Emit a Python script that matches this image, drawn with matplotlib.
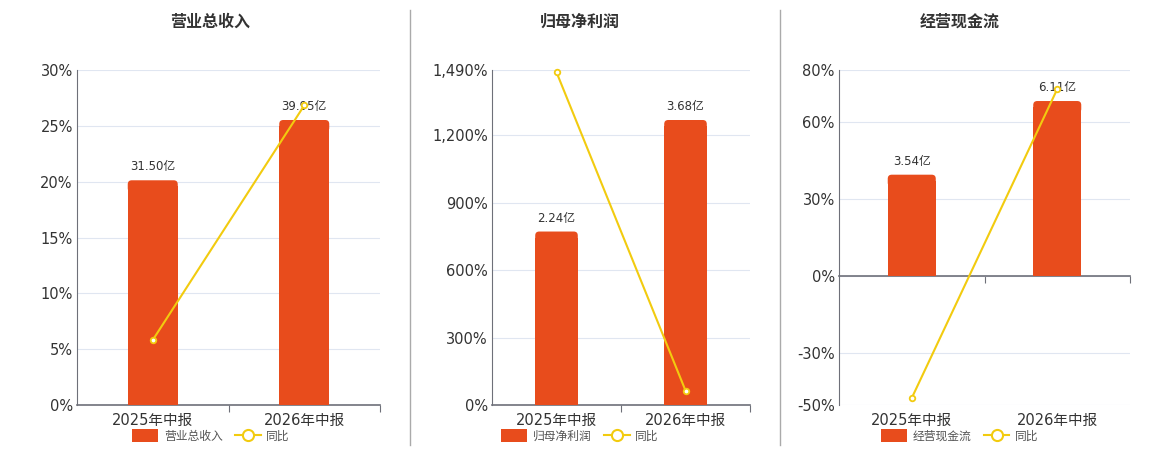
import matplotlib
matplotlib.use("Agg")
import matplotlib.pyplot as plt
from matplotlib.patches import Patch, FancyBboxPatch
from matplotlib.lines import Line2D

plt.rcParams['font.family'] = ['DejaVu Sans', 'Noto Sans CJK SC']

# data
periods = ["2025年中报", "2026年中报"]
titles = ["营业总收入", "归母净利润", "经营现金流"]
amounts = [[31.50, 39.95], [2.24, 3.68], [3.54, 6.11]]     # 亿
yoy = [[5.82, 26.83], [1480.0, 64.29], [-47.3, 72.6]]      # %
pct_ticks = [[0, 5, 10, 15, 20, 25, 30],
             [0, 300, 600, 900, 1200, 1490],
             [-50, -30, 0, 30, 60, 80]]

bar_color = "#E84C1C"
line_color = "#F2CB0F"
grid_color = "#E0E6F1"
axis_color = "#6E7079"
text_color = "#333333"

# axes boxes in pixels: left, right (top 70, bottom 405)
boxes = [(77, 380), (492, 750), (839, 1130)]
title_x = [210, 580, 960]
legend_x = [211, 580, 960]

W, H = 1160, 450
fig = plt.figure(figsize=(W / 100, H / 100), dpi=100)


def fmt_pct(v):
    return "{:,.0f}%".format(v)


for i in range(3):
    l, r = boxes[i]
    rect = [l / W, (H - 405) / H, (r - l) / W, 335 / H]
    ax = fig.add_axes(rect)
    ticks = pct_ticks[i]
    lo, hi = ticks[0], ticks[-1]
    ax.set_ylim(lo, hi)
    ax.set_xlim(-0.5, 1.5)
    ax.set_yticks(ticks)
    ax.set_yticklabels([fmt_pct(t) for t in ticks], fontsize=10.5, color=text_color)
    ax.yaxis.grid(True, color=grid_color, linewidth=0.8)
    ax.set_axisbelow(True)
    for s in ["top", "right"]:
        ax.spines[s].set_visible(False)
    ax.spines["left"].set_color(axis_color)
    ax.spines["bottom"].set_color(axis_color)
    ax.spines["bottom"].set_linewidth(1.2)
    ax.spines["bottom"].set_position(("data", 0))
    ax.tick_params(axis="y", length=0, pad=3)
    ax.set_xticks([0.5, 1.5])
    ax.set_xticklabels([])
    ax.tick_params(axis="x", length=5, color=axis_color, direction="out")
    # category labels at axes bottom
    for j, p in enumerate(periods):
        ax.text(j, -0.045, p, transform=ax.get_xaxis_transform(), ha="center",
                va="center", fontsize=10.5, color=text_color)

    # bars on a hidden twin axis
    axb = ax.twinx()
    if lo < 0:
        # keep zero aligned with the percent axis
        frac0 = -lo / (hi - lo)
        top = max(amounts[i]) * 206 / 175
        bmin = -top * frac0 / (1 - frac0)
    else:
        top = max(amounts[i]) * 335 / 285
        bmin = 0
    axb.set_ylim(bmin, top)
    axb.set_xlim(-0.5, 1.5)
    axb.axis("off")
    bars = axb.bar(range(2), amounts[i], width=0.33, color=bar_color, zorder=2)
    # round the top corners
    x_per_px = 2.0 / (r - l)
    y_per_px = (top - bmin) / 335
    rad = 4 * x_per_px
    for b, v in zip(bars, amounts[i]):
        b.set_height(v - 6 * y_per_px)
        cap = FancyBboxPatch((b.get_x(), v - 12 * y_per_px), b.get_width(),
                             12 * y_per_px,
                             boxstyle="round,pad=0,rounding_size=%f" % rad,
                             mutation_aspect=y_per_px / x_per_px,
                             facecolor=bar_color, edgecolor="none", zorder=2)
        axb.add_patch(cap)
        axb.annotate("{:.2f}亿".format(v), (b.get_x() + b.get_width() / 2, v),
                     xytext=(0, 5), textcoords="offset points", ha="center",
                     va="bottom", fontsize=8.5, color=text_color)

    # yoy line on another twin axis sharing the percent scale
    axl = ax.twinx()
    axl.set_ylim(lo, hi)
    axl.set_xlim(-0.5, 1.5)
    axl.axis("off")
    axl.plot(range(2), yoy[i], color=line_color, linewidth=1.5, marker="o",
             markersize=4, markerfacecolor="white", markeredgecolor=line_color,
             markeredgewidth=1.3, clip_on=False)

    fig.text(title_x[i] / W, 1 - 22 / H, titles[i], ha="center", va="center",
             fontsize=11.5, fontweight="bold", color=text_color)

    handles = [Patch(facecolor=bar_color, edgecolor="none"),
               Line2D([0], [0], color=line_color, linewidth=1.5, marker="o",
                      markersize=8, markerfacecolor="white",
                      markeredgecolor=line_color, markeredgewidth=1.5)]
    fig.legend(handles, [titles[i], "同比"], loc="center",
               bbox_to_anchor=(legend_x[i] / W, 1 - 436 / H), ncol=2,
               frameon=False, fontsize=8.5, handlelength=2.2, handleheight=1.2,
               columnspacing=1.0, handletextpad=0.5, labelcolor="#555555")

# separators between panels
for x in [410, 780]:
    fig.add_artist(Line2D([x / W, x / W], [5 / H, 1 - 10 / H], color="#AAAAAA",
                          linewidth=1))

fig.savefig("out.png", dpi=100)
